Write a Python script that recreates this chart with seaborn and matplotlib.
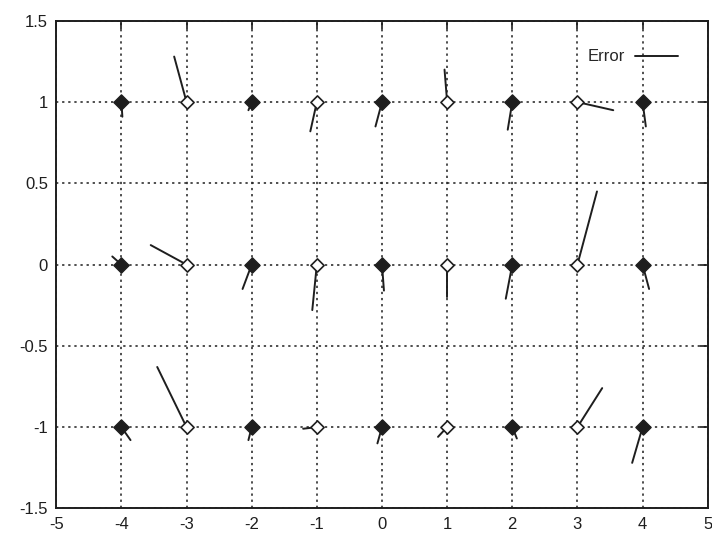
import numpy as np
import pandas as pd
import matplotlib
matplotlib.use("Agg")
import matplotlib.pyplot as plt
import seaborn as sns

# 网格点位置
x_pos = [-4, -3, -2, -1, 0, 1, 2, 3, 4]
y_rows = [1, 0, -1]

# 误差向量 (dx, dy)，按行 y=1, 0, -1
err_dx = {
    1: [0.015, -0.19, -0.05, -0.10, -0.10, -0.04, -0.07, 0.55, 0.05],
    0: [-0.14, -0.55, -0.14, -0.07, 0.03, 0.00, -0.10, 0.30, 0.10],
    -1: [0.14, -0.45, -0.05, -0.21, -0.07, -0.14, 0.07, 0.38, -0.16],
}
err_dy = {
    1: [-0.09, 0.28, -0.05, -0.18, -0.15, 0.20, -0.17, -0.05, -0.15],
    0: [0.05, 0.12, -0.15, -0.28, -0.16, -0.20, -0.21, 0.45, -0.15],
    -1: [-0.08, 0.37, -0.08, -0.01, -0.10, -0.06, -0.07, 0.24, -0.22],
}

x_ticks = [-5, -4, -3, -2, -1, 0, 1, 2, 3, 4, 5]
y_ticks = [-1.5, -1, -0.5, 0, 0.5, 1, 1.5]
y_tick_labels = ["-1.5", "-1", "-0.5", "0", "0.5", "1", "1.5"]

rows = []
for yr in y_rows:
    for i, xv in enumerate(x_pos):
        rows.append({"x": xv, "y": yr, "dx": err_dx[yr][i], "dy": err_dy[yr][i],
                     "kind": "filled" if xv % 2 == 0 else "open"})
df = pd.DataFrame(rows)

sns.set_style("white")
plt.rcParams["font.family"] = ["Liberation Sans", "DejaVu Sans"]

ink = "#1e1e1e"
fig = plt.figure(figsize=(7.12, 5.34), dpi=100)
ax = fig.add_axes([0.079, 0.048, 0.915, 0.913])

# 误差线段
for k, r in df.iterrows():
    ax.plot([r.x, r.x + r.dx], [r.y, r.y + r.dy], color=ink, lw=1.4,
            label="Error" if k == 0 else None, zorder=3)

filled = df[df.kind == "filled"]
hollow = df[df.kind == "open"]
sns.scatterplot(data=filled, x="x", y="y", marker="D", s=60, color=ink,
                edgecolor=ink, linewidth=1, ax=ax, zorder=4, legend=False)
sns.scatterplot(data=hollow, x="x", y="y", marker="D", s=45, facecolor="white",
                edgecolor=ink, linewidth=1.2, ax=ax, zorder=4, legend=False)

ax.set_xlim(-5, 5)
ax.set_ylim(-1.5, 1.5)
ax.set_xticks(x_ticks)
ax.set_xticklabels([str(t) for t in x_ticks])
ax.set_yticks(y_ticks)
ax.set_yticklabels(y_tick_labels)
ax.set_xlabel("")
ax.set_ylabel("")
ax.grid(True, color=ink, linestyle=(0, (1.5, 2.5)), linewidth=1.1)
ax.tick_params(direction="in", length=6, width=1.2, top=True, right=True,
               labelsize=12, colors=ink, pad=6)
for sp in ax.spines.values():
    sp.set_color(ink)
    sp.set_linewidth(1.4)

ax.legend(loc="upper right", frameon=False, markerfirst=False, handlelength=2.6,
          fontsize=12, bbox_to_anchor=(0.965, 0.955), borderaxespad=0,
          handletextpad=0.6)

fig.savefig("out.png", dpi=100)
plt.close(fig)
